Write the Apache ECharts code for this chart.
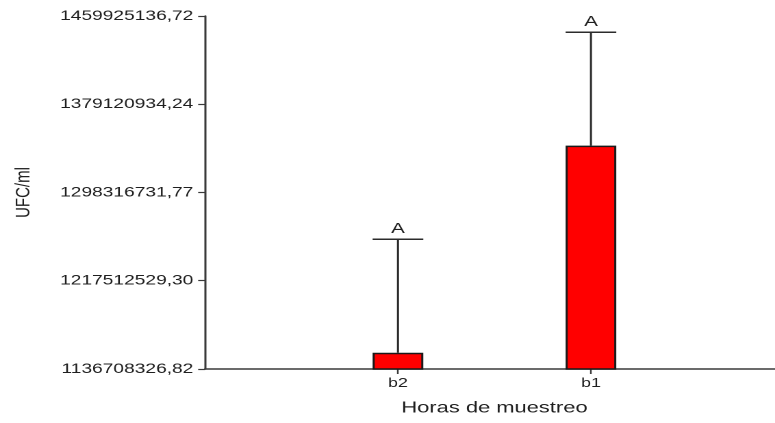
<!DOCTYPE html>
<html>
<head>
<meta charset="utf-8">
<script src="https://cdn.jsdelivr.net/npm/echarts@6/dist/echarts.min.js"></script>
<style>
  html, body { margin: 0; padding: 0; background: #ffffff; overflow: hidden; }
  #wrap { width: 775px; height: 423px; overflow: hidden; position: relative; }
  /* the chart is laid out narrow and widened horizontally */
  #chart { width: 600px; height: 423px; transform: scaleX(1.3693); transform-origin: 0 0; }
</style>
</head>
<body>
<div id="wrap"><div id="chart"></div></div>
<script>
// Sampling hours (empty slots pad both ends of the axis)
const categories = ['', 'b2', 'b1', ''];
// Mean UFC/ml per sampling time
const meanValues = [null, 1151600000, 1341200000, null];
// Upper end of the error bar
const upperValues = [null, 1255500000, 1445000000, null];
// Significance letters drawn above each error bar
const groupLetters = ['', 'A', 'A', ''];
// Y axis tick positions
const yTickValues = [1136708326.82, 1217512529.30, 1298316731.77, 1379120934.24, 1459925136.72];

const textColor = '#1f1f1f';
const lineColor = '#3a3a3a';
const font = 'Liberation Sans, Arial, sans-serif';

const errorData = [];
categories.forEach((c, i) => {
  if (meanValues[i] != null) errorData.push([i, meanValues[i], upperValues[i]]);
});

function renderError(params, api) {
  const idx = api.value(0);
  const base = api.coord([idx, api.value(1)]);
  const top = api.coord([idx, api.value(2)]);
  const half = 18.5;
  const letter = groupLetters[idx];
  const st = { stroke: '#2b2b2b', lineWidth: 1.5 };
  return {
    type: 'group',
    children: [
      { type: 'line', shape: { x1: base[0], y1: base[1], x2: top[0], y2: top[1] }, style: st },
      { type: 'line', shape: { x1: top[0] - half, y1: top[1], x2: top[0] + half, y2: top[1] }, style: st },
      {
        type: 'text', x: top[0], y: top[1] - 3,
        style: { text: letter, textAlign: 'center', textVerticalAlign: 'bottom',
                 fontFamily: font, fontSize: 15, fill: textColor }
      }
    ]
  };
}

const chart = echarts.init(document.getElementById('chart'), null, { renderer: 'canvas', devicePixelRatio: 2 });
chart.setOption({
  animation: false,
  backgroundColor: '#ffffff',
  grid: { left: 149.7, top: 16, width: 422.8, height: 353 },
  xAxis: {
    type: 'category',
    data: categories,
    boundaryGap: false,
    name: 'Horas de muestreo',
    nameLocation: 'middle',
    nameGap: 31,
    nameTextStyle: { fontFamily: font, fontSize: 16, color: textColor },
    axisLine: { show: true, lineStyle: { color: lineColor, width: 1.5 } },
    axisTick: { show: true, length: 5, interval: (i) => categories[i] !== '', lineStyle: { color: lineColor, width: 1.2 } },
    axisLabel: { interval: 0, margin: 8, fontFamily: font, fontSize: 13, color: textColor },
    splitLine: { show: false }
  },
  yAxis: {
    type: 'value',
    min: yTickValues[0],
    max: yTickValues[yTickValues.length - 1],
    name: 'UFC/ml',
    nameLocation: 'middle',
    nameGap: 125,
    nameTextStyle: { fontFamily: font, fontSize: 15, color: textColor },
    axisLine: { show: true, lineStyle: { color: lineColor, width: 1.5 } },
    axisTick: { show: true, length: 5, customValues: yTickValues, lineStyle: { color: lineColor, width: 1.2 } },
    axisLabel: {
      customValues: yTickValues,
      margin: 8.5,
      fontFamily: font, fontSize: 14, color: textColor,
      formatter: (v) => v.toFixed(2).replace('.', ',')
    },
    splitLine: { show: false }
  },
  series: [
    {
      type: 'bar',
      data: meanValues,
      barWidth: 37,
      itemStyle: { color: '#ff0000', borderColor: '#1a1a1a', borderWidth: 1.5 }
    },
    {
      type: 'custom',
      renderItem: renderError,
      data: errorData,
      z: 5
    }
  ]
});
</script>
</body>
</html>
